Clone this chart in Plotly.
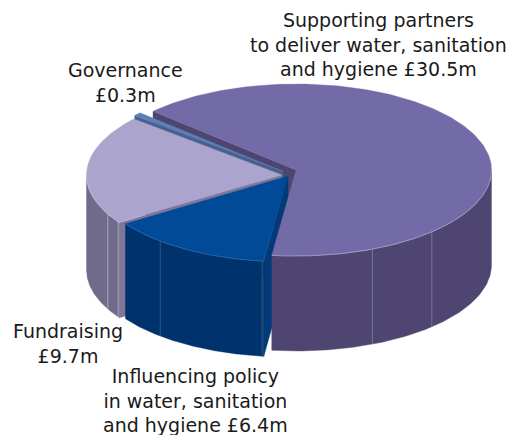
import numpy as np
import plotly.graph_objects as go

categories = ["Supporting partners", "Influencing policy", "Fundraising", "Governance"]
values = [30.5, 6.4, 9.7, 0.3]
labels = [
    "Supporting partners<br>to deliver water, sanitation<br>and hygiene £30.5m",
    "Influencing policy<br>in water, sanitation<br>and hygiene £6.4m",
    "Fundraising<br>£9.7m",
    "Governance<br>£0.3m",
]

# Drawing set-up (pixel-based projection of the tilted pie)
START = 313.0
RX, RY, DEPTH = 195.5, 86.0, 95.0
centers = [(296, 170), (288, 176), (282, 175), (283, 171.5)]
top_colors = ["#736AA8", "#004A97", "#ABA4CC", "#5C80B5"]
wall_colors = ["#4E4570", "#00336B", "#716B8B", "#49608F"]
cut_colors = ["#4E4570", "#003A78", "#7D7699", "#49608F"]
rim_colors = ["#A9A2CC", "#2F6CB0", "#C8C3DE", "#7F9CC8"]
seam_colors = ["#7A7398", "#2F5488", "#A9A4BE", "#8D86A8"]
seams = [[136, 157], [187.6, 220.8], [236.9, 243], []]
label_x = [378, 195, 68, 125]
label_y = [44, 400, 343, 82]

fractions = np.array(values) / sum(values)
edges = START + 360 * np.concatenate([[0], np.cumsum(fractions)])


def rim(c, a):
    a = np.radians(a)
    return c[0] + RX * np.sin(a), c[1] - RY * np.cos(a)


fig = go.Figure()


def poly(xs, ys, color):
    fig.add_trace(go.Scatter(
        x=list(xs) + [xs[0]], y=list(ys) + [ys[0]], mode="lines", fill="toself",
        fillcolor=color, line=dict(color=color, width=0.4),
        hoverinfo="skip", showlegend=False))


def stroke(xs, ys, color, width):
    fig.add_trace(go.Scatter(x=list(xs), y=list(ys), mode="lines",
                             line=dict(color=color, width=width),
                             hoverinfo="skip", showlegend=False))


def cut_face(i, angle):
    c = centers[i]
    x, y = rim(c, angle)
    poly([c[0], x, x, c[0]], [c[1], y, y + DEPTH, c[1] + DEPTH], cut_colors[i])


def wall_and_top(i):
    c = centers[i]
    ts = np.linspace(edges[i], edges[i + 1], 240)
    rx, ry = rim(c, ts)
    tw = ts[(np.mod(ts, 360) >= 90) & (np.mod(ts, 360) <= 270)]
    if len(tw):
        wx, wy = rim(c, tw)
        poly(list(wx) + list(wx[::-1]), list(wy) + list(wy[::-1] + DEPTH), wall_colors[i])
        for s in seams[i]:
            sx, sy = rim(c, s)
            stroke([sx, sx], [sy, sy + DEPTH], seam_colors[i], 1)
    poly([c[0]] + list(rx), [c[1]] + list(ry), top_colors[i])
    if len(tw):
        stroke(wx, wy, rim_colors[i], 0.8)


# painter's order: back faces first, the nearest slice last
cut_face(0, edges[0])
cut_face(3, edges[3])
wall_and_top(3)
cut_face(2, edges[2])
cut_face(1, edges[1])
wall_and_top(0)
wall_and_top(2)
wall_and_top(1)

annotations = [
    dict(x=x, y=y, text=t, showarrow=False, xanchor="center", yanchor="middle",
         align="center", borderpad=0,
         font=dict(family="DejaVu Sans", size=19, color="#1A1A1A"), xref="x", yref="y")
    for x, y, t in zip(label_x, label_y, labels)
]

fig.update_layout(
    width=519, height=435, margin=dict(l=0, r=0, t=0, b=0),
    paper_bgcolor="white", plot_bgcolor="white", showlegend=False,
    xaxis=dict(range=[0, 519], visible=False, fixedrange=True),
    yaxis=dict(range=[435, 0], visible=False, fixedrange=True),
    annotations=annotations,
)
fig.write_html("out.html", config=dict(displayModeBar=False),
               post_script="document.body.style.margin='0';")
